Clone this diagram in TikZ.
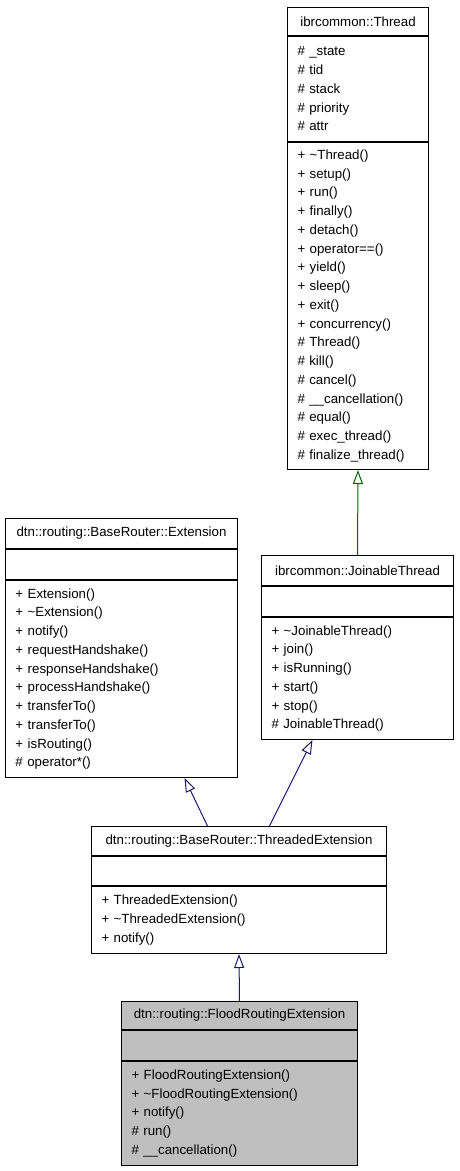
\documentclass[tikz,border=0pt]{standalone}
\usepackage{fontspec}
\setmainfont{Liberation Sans}
\usetikzlibrary{arrows.meta,positioning}

\begin{document}
\begin{tikzpicture}[
    x=1pt, y=-1pt,
    every node/.style={font=\fontsize{13.3}{18.75}\selectfont},
    hd/.style   ={rectangle,draw=black,line width=1pt,fill=white,
                  anchor=north west,minimum height=29pt,inner sep=0pt,
                  align=center},
    part/.style ={rectangle,draw=black,line width=1pt,fill=white,
                  inner xsep=10pt,inner ysep=0pt,align=left,
                  minimum height=30pt},
    cur/.style  ={fill=black!25},
    inh/.style  ={-{Triangle[open,length=14pt,width=10pt]},line width=1pt,
                  draw={rgb,255:red,25;green,25;blue,112}},
    inhg/.style ={inh,draw={rgb,255:red,0;green,100;blue,0}},
  ]
  \useasboundingbox (0,0) rectangle (459,1171);

  % ibrcommon::Thread
  \node[hd,minimum width=141pt,minimum height=28pt] (thread) at (287,7) {ibrcommon::Thread};
  \node[part,text width=121pt,minimum height=105pt,below=0pt of thread] (threada)
    {\# \_state\\\# tid\\\# stack\\\# priority\\\# attr};
  \node[part,text width=121pt,minimum height=327pt,below=0pt of threada] (threadm)
    {+ \textasciitilde Thread()\\+ setup()\\+ run()\\+ finally()\\+ detach()\\
     + operator==()\\+ yield()\\+ sleep()\\+ exit()\\+ concurrency()\\
     \# Thread()\\\# kill()\\\# cancel()\\\# \_\_cancellation()\\\# equal()\\
     \# exec\_thread()\\\# finalize\_thread()};

  % dtn::routing::BaseRouter::Extension
  \node[hd,minimum width=232pt,minimum height=30pt] (ext) at (5,518) {dtn::routing::BaseRouter::Extension};
  \node[part,text width=212pt,below=0pt of ext] (exta) {};
  \node[part,text width=212pt,minimum height=197pt,below=0pt of exta] (extm)
    {+ Extension()\\+ \textasciitilde Extension()\\+ notify()\\+ requestHandshake()\\
     + responseHandshake()\\+ processHandshake()\\+ transferTo()\\+ transferTo()\\
     + isRouting()\\\# operator*()};

  % ibrcommon::JoinableThread
  \node[hd,minimum width=192pt,minimum height=30pt] (join) at (261,555) {ibrcommon::JoinableThread};
  \node[part,text width=172pt,below=0pt of join] (joina) {};
  \node[part,text width=172pt,minimum height=122pt,below=0pt of joina] (joinm)
    {+ \textasciitilde JoinableThread()\\+ join()\\+ isRunning()\\+ start()\\
     + stop()\\\# JoinableThread()};

  % dtn::routing::BaseRouter::ThreadedExtension
  \node[hd,minimum width=295pt] (te) at (91,826) {dtn::routing::BaseRouter::ThreadedExtension};
  \node[part,text width=275pt,minimum height=29pt,below=0pt of te] (tea) {};
  \node[part,text width=275pt,minimum height=67pt,below=0pt of tea] (tem)
    {+ ThreadedExtension()\\+ \textasciitilde ThreadedExtension()\\+ notify()};

  % dtn::routing::FloodRoutingExtension
  \node[hd,cur,minimum width=236pt,minimum height=28pt] (flood) at (121,1001) {dtn::routing::FloodRoutingExtension};
  \node[part,cur,text width=216pt,below=0pt of flood] (flooda) {};
  \node[part,cur,text width=216pt,minimum height=104pt,below=0pt of flooda] (floodm)
    {+ FloodRoutingExtension()\\+ \textasciitilde FloodRoutingExtension()\\
     + notify()\\\# run()\\\# \_\_cancellation()};

  % inheritance
  \draw[inhg] (join.north) -- (threadm.south);
  \draw[inh] ([xshift=-31.5pt]te.north) -- ([xshift=63pt]extm.south);
  \draw[inh] ([xshift=30.5pt]te.north) -- ([xshift=-45pt]joinm.south);
  \draw[inh] (flood.north) -- (tem.south);
\end{tikzpicture}
\end{document}
